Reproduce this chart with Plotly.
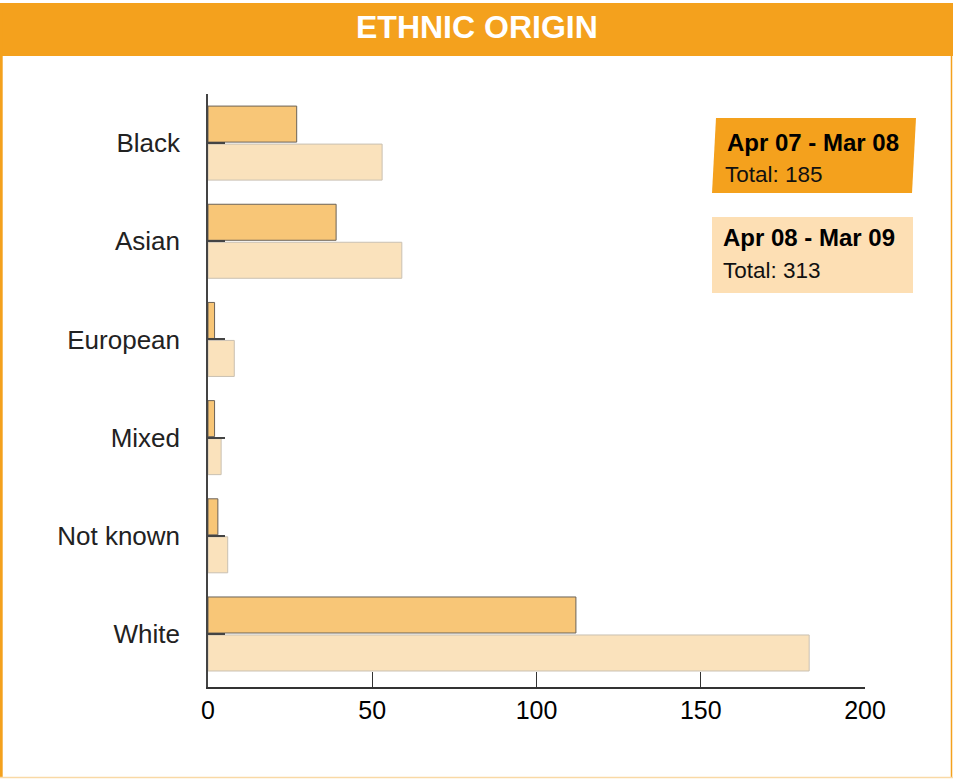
import plotly.graph_objects as go

categories = ["Black", "Asian", "European", "Mixed", "Not known", "White"]
period1_name = "Apr 07 - Mar 08"
period2_name = "Apr 08 - Mar 09"
period1_values = [27, 39, 2, 2, 3, 112]
period2_values = [53, 59, 8, 4, 6, 183]
x_ticks = [0, 50, 100, 150, 200]

W, H = 953, 779
L, R, T, B = 208, 865, 94, 687  # plot area in pixels


def px(x):
    return (x - L) / (R - L)


def py(y):
    return (B - y) / (B - T)


ORANGE = "#F4A11D"
DARK_BAR = "#F8C677"
LIGHT_BAR = "#FAE2BC"
LIGHT_BOX = "#FDDFB4"
FONT = "Liberation Sans, Arial, sans-serif"

fig = go.Figure()
fig.add_trace(go.Bar(
    y=categories, x=period1_values, orientation="h", name=period1_name,
    marker=dict(color=DARK_BAR, line=dict(color="#6b6257", width=1)),
))
fig.add_trace(go.Bar(
    y=categories, x=period2_values, orientation="h", name=period2_name,
    marker=dict(color=LIGHT_BAR, line=dict(color="#c9c0b2", width=1)),
))

shapes = [
    # header band
    dict(type="rect", xref="paper", yref="paper", x0=px(0), x1=px(W), y0=py(56), y1=py(3),
         fillcolor=ORANGE, line=dict(width=0), layer="below"),
    # frame
    dict(type="line", xref="paper", yref="paper", x0=px(1.2), x1=px(1.2), y0=py(3), y1=py(778),
         line=dict(color=ORANGE, width=3)),
    dict(type="line", xref="paper", yref="paper", x0=px(951.5), x1=px(951.5), y0=py(3), y1=py(778),
         line=dict(color=ORANGE, width=1.5)),
    dict(type="line", xref="paper", yref="paper", x0=px(0), x1=px(W), y0=py(777.5), y1=py(777.5),
         line=dict(color="#F9D9A6", width=1.5)),
    # legend box 1 (slightly slanted)
    dict(type="path", xref="paper", yref="paper",
         path=f"M {px(716)} {py(118)} L {px(916)} {py(118)} L {px(912)} {py(193)} L {px(712)} {py(193)} Z",
         fillcolor=ORANGE, line=dict(width=0)),
    # legend box 2
    dict(type="rect", xref="paper", yref="paper", x0=px(712), x1=px(913), y0=py(293), y1=py(217),
         fillcolor=LIGHT_BOX, line=dict(width=0)),
]

annotations = [
    dict(text="<b>ETHNIC ORIGIN</b>", xref="paper", yref="paper", x=px(477), y=py(27),
         xanchor="center", yanchor="middle", showarrow=False,
         font=dict(family=FONT, size=32, color="white")),
    dict(text=f"<b>{period1_name}</b>", xref="paper", yref="paper", x=px(725), y=py(142),
         xanchor="left", yanchor="middle", showarrow=False,
         font=dict(family=FONT, size=24, color="black")),
    dict(text=f"Total: {sum(period1_values)}", xref="paper", yref="paper", x=px(723), y=py(174),
         xanchor="left", yanchor="middle", showarrow=False,
         font=dict(family=FONT, size=22.5, color="#111")),
    dict(text=f"<b>{period2_name}</b>", xref="paper", yref="paper", x=px(721), y=py(238),
         xanchor="left", yanchor="middle", showarrow=False,
         font=dict(family=FONT, size=24, color="black")),
    dict(text=f"Total: {sum(period2_values)}", xref="paper", yref="paper", x=px(721), y=py(270),
         xanchor="left", yanchor="middle", showarrow=False,
         font=dict(family=FONT, size=22.5, color="#111")),
]

fig.update_layout(
    width=W, height=H,
    margin=dict(l=L, r=W - R, t=T, b=H - B, pad=0),
    paper_bgcolor="white", plot_bgcolor="white",
    barmode="group", bargap=0.226, bargroupgap=0.052,
    showlegend=False,
    shapes=shapes, annotations=annotations,
    xaxis=dict(
        range=[0, 200], tickvals=x_ticks, ticktext=[str(v) for v in x_ticks],
        showgrid=False, zeroline=False, showline=True, linecolor="#333", linewidth=1.5,
        ticks="inside", ticklen=15, tickwidth=1.2, tickcolor="#333",
        tickfont=dict(family=FONT, size=25, color="black"),
        ticklabelstandoff=0,
    ),
    yaxis=dict(
        type="category", categoryorder="array", categoryarray=categories,
        range=[5.54, -0.5],
        showgrid=False, zeroline=False, showline=True, linecolor="#444", linewidth=1.5,
        ticks="inside", ticklen=17, tickwidth=1.5, tickcolor="#444",
        tickfont=dict(family=FONT, size=26, color="#222"),
        ticklabelstandoff=21,
    ),
)

fig.write_html("out.html", config={"displayModeBar": False},
               post_script="document.body.style.margin='0';document.body.style.overflow='hidden';")
